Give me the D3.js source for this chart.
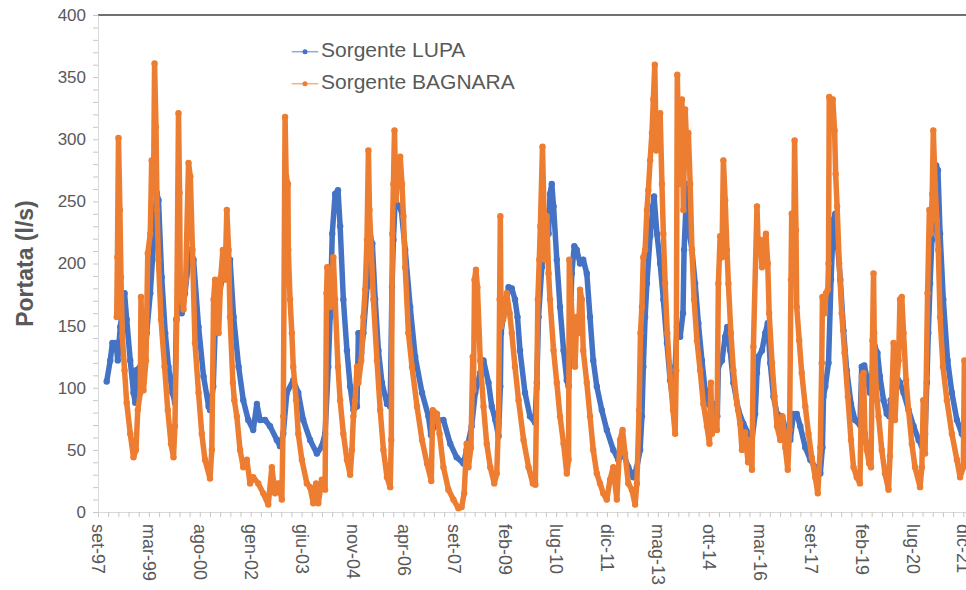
<!DOCTYPE html>
<html>
<head>
<meta charset="utf-8">
<script src="https://cdn.jsdelivr.net/npm/d3@7"></script>
<style>
  body { margin: 0; background: #fff; }
  svg { display: block; font-family: "Liberation Sans", Arial, sans-serif; }
</style>
</head>
<body>
<div id="chart"></div>
<script>
// dates as decimal years, flows in l/s
const lupaDates = [1997.98,1998.08,1998.14,1998.24,1998.29,1998.36,1998.48,1998.54,1998.64,1998.73,1998.78,1998.80,1998.92,1999.01,1999.10,1999.20,1999.29,1999.38,1999.43,1999.52,1999.62,1999.71,1999.82,1999.89,1999.93,1999.99,2000.08,2000.17,2000.31,2000.41,2000.55,2000.69,2000.83,2000.87,2000.96,2001.01,2001.11,2001.20,2001.34,2001.43,2001.53,2001.67,2001.80,2001.94,2002.08,2002.18,2002.27,2002.41,2002.55,2002.74,2002.83,2002.92,2003.02,2003.20,2003.34,2003.48,2003.67,2003.86,2004.00,2004.09,2004.18,2004.23,2004.29,2004.37,2004.45,2004.51,2004.60,2004.70,2004.79,2004.88,2004.98,2005.02,2005.10,2005.16,2005.26,2005.35,2005.41,2005.49,2005.58,2005.68,2005.82,2005.91,2005.96,2006.00,2006.05,2006.14,2006.22,2006.33,2006.47,2006.61,2006.80,2006.98,2007.05,2007.20,2007.40,2007.59,2007.77,2007.96,2008.05,2008.19,2008.29,2008.43,2008.52,2008.66,2008.75,2008.85,2008.94,2008.99,2009.01,2009.06,2009.13,2009.22,2009.31,2009.40,2009.47,2009.54,2009.68,2009.82,2009.96,2010.01,2010.06,2010.15,2010.24,2010.34,2010.38,2010.43,2010.48,2010.57,2010.66,2010.76,2010.85,2010.90,2010.94,2010.99,2011.06,2011.13,2011.22,2011.31,2011.41,2011.50,2011.59,2011.69,2011.83,2011.97,2012.15,2012.29,2012.43,2012.57,2012.71,2012.81,2012.90,2012.95,2012.99,2013.04,2013.09,2013.18,2013.26,2013.29,2013.37,2013.46,2013.55,2013.65,2013.74,2013.83,2013.88,2013.93,2014.02,2014.10,2014.13,2014.19,2014.22,2014.28,2014.35,2014.44,2014.53,2014.63,2014.72,2014.81,2014.91,2015.00,2015.06,2015.09,2015.19,2015.28,2015.34,2015.42,2015.51,2015.65,2015.79,2015.93,2016.03,2016.12,2016.17,2016.21,2016.31,2016.40,2016.47,2016.54,2016.63,2016.73,2016.87,2017.00,2017.10,2017.19,2017.28,2017.38,2017.52,2017.66,2017.80,2017.94,2018.00,2018.03,2018.08,2018.17,2018.24,2018.31,2018.36,2018.43,2018.50,2018.59,2018.68,2018.80,2018.91,2019.05,2019.10,2019.17,2019.24,2019.33,2019.41,2019.47,2019.54,2019.61,2019.71,2019.80,2019.87,2019.91,2019.99,2020.08,2020.17,2020.27,2020.41,2020.55,2020.69,2020.78,2020.87,2020.92,2020.96,2021.01,2021.06,2021.10,2021.18,2021.23,2021.29,2021.38,2021.50,2021.62,2021.76,2021.90,2021.99,2022.06];
const lupaValues = [105,122,136,136,122,149,176,155,122,96,88,114,117,109,144,176,216,257,251,189,144,117,96,88,155,171,160,176,211,203,149,109,85,82,101,144,171,187,206,203,157,117,90,74,66,87,74,74,69,58,53,63,96,106,96,74,58,47,53,63,117,157,224,256,259,230,171,130,101,82,85,144,128,144,181,222,216,171,130,104,87,85,181,219,251,246,243,211,165,125,96,77,62,74,74,55,44,39,50,69,96,112,122,104,85,74,61,101,144,155,165,181,180,171,157,130,96,77,72,104,157,197,219,224,256,264,246,203,165,130,106,101,144,192,214,211,200,203,192,157,122,101,82,66,50,42,47,36,28,36,50,77,117,157,184,222,246,254,224,200,171,136,106,87,117,149,141,160,211,251,264,224,211,184,152,122,98,87,82,87,77,117,122,141,149,130,104,82,71,63,58,79,112,125,130,144,152,120,93,79,77,63,58,79,79,69,52,42,36,31,52,93,101,120,187,235,240,213,187,146,114,87,74,70,117,118,109,96,117,133,128,109,90,79,77,90,90,109,104,96,82,69,58,53,63,104,144,184,219,256,279,275,224,171,122,96,74,63,58,55];

const bagnaraDates = [1998.26,1998.28,1998.31,1998.35,1998.38,1998.42,1998.48,1998.54,1998.64,1998.73,1998.80,1998.85,1998.92,1998.94,1999.01,1999.08,1999.13,1999.20,1999.24,1999.29,1999.32,1999.36,1999.39,1999.43,1999.50,1999.60,1999.69,1999.78,1999.85,1999.89,1999.94,1999.99,2000.02,2000.04,2000.13,2000.19,2000.27,2000.32,2000.38,2000.45,2000.55,2000.64,2000.73,2000.87,2000.92,2000.97,2001.01,2001.06,2001.11,2001.17,2001.23,2001.29,2001.34,2001.39,2001.43,2001.51,2001.55,2001.62,2001.71,2001.80,2001.90,2001.99,2002.08,2002.22,2002.36,2002.50,2002.60,2002.69,2002.78,2002.88,2002.92,2002.97,2003.00,2003.05,2003.06,2003.11,2003.16,2003.20,2003.28,2003.34,2003.44,2003.58,2003.67,2003.76,2003.84,2003.90,2004.00,2004.09,2004.13,2004.15,2004.18,2004.23,2004.28,2004.32,2004.37,2004.45,2004.51,2004.60,2004.70,2004.79,2004.84,2004.88,2004.93,2004.98,2005.02,2005.10,2005.16,2005.21,2005.26,2005.30,2005.33,2005.38,2005.44,2005.54,2005.63,2005.72,2005.82,2005.91,2005.94,2005.97,2006.00,2006.03,2006.07,2006.12,2006.19,2006.24,2006.28,2006.33,2006.42,2006.52,2006.66,2006.80,2006.94,2007.06,2007.10,2007.22,2007.29,2007.40,2007.54,2007.68,2007.82,2007.91,2007.98,2008.05,2008.10,2008.17,2008.22,2008.24,2008.27,2008.31,2008.35,2008.43,2008.52,2008.61,2008.71,2008.82,2008.89,2008.94,2008.97,2008.99,2009.01,2009.08,2009.17,2009.25,2009.31,2009.40,2009.50,2009.64,2009.78,2009.90,2009.97,2010.01,2010.04,2010.08,2010.11,2010.17,2010.21,2010.24,2010.29,2010.34,2010.38,2010.48,2010.57,2010.66,2010.76,2010.85,2010.90,2010.92,2010.97,2011.04,2011.08,2011.13,2011.18,2011.22,2011.27,2011.31,2011.41,2011.50,2011.59,2011.69,2011.78,2011.87,2011.97,2012.06,2012.15,2012.25,2012.34,2012.41,2012.48,2012.57,2012.67,2012.76,2012.81,2012.87,2012.91,2012.95,2012.99,2013.04,2013.09,2013.13,2013.18,2013.23,2013.27,2013.31,2013.35,2013.41,2013.46,2013.51,2013.55,2013.60,2013.66,2013.74,2013.82,2013.88,2013.91,2013.94,2013.97,2014.02,2014.07,2014.11,2014.16,2014.21,2014.25,2014.30,2014.35,2014.41,2014.49,2014.58,2014.67,2014.77,2014.84,2014.88,2014.91,2014.97,2015.05,2015.09,2015.14,2015.19,2015.23,2015.28,2015.33,2015.37,2015.44,2015.51,2015.61,2015.70,2015.75,2015.84,2015.92,2015.98,2016.03,2016.07,2016.17,2016.21,2016.26,2016.31,2016.35,2016.42,2016.47,2016.51,2016.59,2016.66,2016.73,2016.82,2016.88,2016.96,2017.03,2017.08,2017.12,2017.14,2017.19,2017.22,2017.26,2017.28,2017.35,2017.42,2017.52,2017.61,2017.70,2017.80,2017.87,2017.94,2017.98,2018.00,2018.06,2018.10,2018.15,2018.17,2018.19,2018.24,2018.29,2018.34,2018.37,2018.41,2018.47,2018.54,2018.62,2018.71,2018.80,2018.87,2018.96,2019.05,2019.10,2019.15,2019.19,2019.24,2019.31,2019.36,2019.40,2019.43,2019.45,2019.50,2019.57,2019.66,2019.75,2019.85,2019.89,2019.94,2019.99,2020.03,2020.08,2020.13,2020.17,2020.22,2020.27,2020.34,2020.41,2020.50,2020.59,2020.73,2020.78,2020.82,2020.87,2020.94,2020.99,2021.03,2021.07,2021.10,2021.15,2021.20,2021.24,2021.29,2021.37,2021.48,2021.62,2021.76,2021.85,2021.94,2021.97,2022.02];
const bagnaraValues = [157,205,301,243,189,141,114,88,63,44,50,82,96,173,98,122,208,224,283,257,361,310,243,203,155,117,82,55,44,69,155,321,257,181,163,187,281,270,211,136,96,63,42,27,50,171,187,157,144,189,211,187,243,211,157,104,90,77,50,36,42,23,28,23,15,6,36,15,23,10,77,318,270,264,211,171,144,117,90,63,42,23,20,7,23,7,26,18,176,197,192,165,187,205,171,117,90,63,42,30,50,77,90,117,104,122,157,179,219,291,243,211,171,122,82,50,28,20,58,224,264,307,251,272,286,264,238,197,144,117,85,58,39,25,82,79,63,36,18,10,3,4,15,55,36,52,125,98,187,195,181,122,85,55,36,23,31,74,171,238,149,157,176,160,144,117,90,58,36,23,22,100,171,203,230,294,243,203,238,192,171,130,104,77,55,31,42,203,171,138,117,157,144,179,171,130,104,77,50,31,23,15,10,26,36,10,58,66,47,23,18,6,23,82,144,165,205,211,243,259,283,305,332,360,291,305,321,264,224,184,144,109,82,63,114,352,305,264,332,243,324,291,305,264,211,171,138,114,87,69,55,104,63,69,66,184,222,205,283,251,211,184,144,114,87,71,50,64,40,58,34,133,246,208,219,197,213,224,200,160,120,93,69,58,77,52,34,66,187,240,187,299,227,165,138,112,85,63,44,28,15,52,120,173,160,176,179,200,334,321,332,307,272,246,200,160,128,93,58,36,28,23,109,112,63,50,39,36,138,192,144,101,77,50,31,18,45,90,136,74,104,122,171,173,144,106,82,55,36,20,36,90,47,176,243,224,256,307,264,235,211,157,117,90,63,42,28,36,122,104];

const yTicks = [0, 50, 100, 150, 200, 250, 300, 350, 400];
const seriesNames = ["Sorgente LUPA", "Sorgente BAGNARA"];
const colors = ["#4472C4", "#ED7D31"];
const lightColors = ["#8FAADC", "#F4B183"];

const W = 966, H = 590;
const mLeft = 98, mTop = 15, mBottom = 512;

// decimal year -> UTC date
function toDate(t) {
  const yr = Math.floor(t);
  const a = Date.UTC(yr, 0, 1), b = Date.UTC(yr + 1, 0, 1);
  return new Date(a + (t - yr) * (b - a));
}

const DAY = 86400000;
const axisStart = new Date(Date.UTC(1997, 8, 27));
const majorDays = 520;
const axisEnd = new Date(axisStart.getTime() + 17 * majorDays * DAY);

const x = d3.scaleUtc()
  .domain([axisStart, axisEnd])
  .range([mLeft, mLeft + 17 * 50.9]);
const y = d3.scaleLinear().domain([0, 400]).range([mBottom, mTop]);

const it = d3.timeFormatLocale({
  dateTime: "%A %e %B %Y, %X", date: "%d/%m/%Y", time: "%H:%M:%S",
  periods: ["AM", "PM"],
  days: ["domenica", "lunedì", "martedì", "mercoledì", "giovedì", "venerdì", "sabato"],
  shortDays: ["dom", "lun", "mar", "mer", "gio", "ven", "sab"],
  months: ["gennaio", "febbraio", "marzo", "aprile", "maggio", "giugno", "luglio", "agosto", "settembre", "ottobre", "novembre", "dicembre"],
  shortMonths: ["gen", "feb", "mar", "apr", "mag", "giu", "lug", "ago", "set", "ott", "nov", "dic"]
});
const fmt = it.utcFormat("%b-%y");

const majorTicks = d3.range(0, 18).map(k => new Date(axisStart.getTime() + k * majorDays * DAY));
const minorTicks = d3.range(0, 18 * 5 + 1).map(k => new Date(axisStart.getTime() + k * (majorDays / 5) * DAY));

const svg = d3.select("#chart").append("svg")
  .attr("width", W)
  .attr("height", H);

// top border line (400)
svg.append("line")
  .attr("x1", mLeft).attr("x2", W)
  .attr("y1", y(400)).attr("y2", y(400))
  .attr("stroke", "#404040").attr("stroke-width", 1.3);

// x axis: minor ticks
const xMinor = svg.append("g")
  .attr("transform", `translate(0, ${mBottom})`)
  .call(d3.axisBottom(x).tickValues(minorTicks).tickSize(5).tickFormat("").tickSizeOuter(0));
xMinor.select(".domain").attr("stroke", "#d9d9d9").attr("d", `M${mLeft},0.5H${W}`);
xMinor.selectAll(".tick line").attr("stroke", "#c8c8c8");

// x axis labels (last one runs off the right edge, as in the original)
const xLab = svg.append("g")
  .attr("transform", `translate(0, ${mBottom})`)
  .call(d3.axisBottom(x).tickValues(majorTicks).tickSize(0).tickFormat(fmt));
xLab.select(".domain").remove();
xLab.selectAll("text")
  .attr("transform", "rotate(90)")
  .attr("x", 12).attr("y", 0).attr("dy", "0.35em")
  .style("text-anchor", "start")
  .style("font-size", "18px")
  .style("font-family", "Liberation Sans, Arial, sans-serif")
  .attr("fill", "#595959");

// y axis minor ticks
const yMinor = svg.append("g")
  .attr("transform", `translate(${mLeft}, 0)`)
  .call(d3.axisLeft(y).tickValues(d3.range(0, 401, 10)).tickSize(5).tickFormat("").tickSizeOuter(0));
yMinor.select(".domain").attr("stroke", "#d9d9d9");
yMinor.selectAll(".tick line").attr("stroke", "#c8c8c8");

// y labels
const yLab = svg.append("g")
  .attr("transform", `translate(${mLeft}, 0)`)
  .call(d3.axisLeft(y).tickValues(yTicks).tickSize(0).tickPadding(12));
yLab.select(".domain").remove();
yLab.selectAll("text")
  .style("font-size", "17px")
  .style("font-family", "Liberation Sans, Arial, sans-serif")
  .attr("fill", "#595959");

svg.append("text")
  .attr("transform", `translate(27, ${(mTop + mBottom) / 2}) rotate(-90)`)
  .attr("text-anchor", "middle")
  .attr("dominant-baseline", "middle")
  .style("font-size", "23px")
  .style("font-weight", "bold")
  .attr("fill", "#595959")
  .text("Portata (l/s)");

// series
const series = [
  lupaDates.map((t, i) => ({ date: toDate(t), value: lupaValues[i] })),
  bagnaraDates.map((t, i) => ({ date: toDate(t), value: bagnaraValues[i] }))
];

const line = d3.line()
  .x(d => x(d.date))
  .y(d => y(d.value));

series.forEach((data, i) => {
  const g = svg.append("g").attr("class", "series s" + i);
  g.append("path")
    .datum(data)
    .attr("d", line)
    .attr("fill", "none")
    .attr("stroke", colors[i])
    .attr("stroke-width", 5.5)
    .attr("stroke-linejoin", "round")
    .attr("stroke-linecap", "round");
  g.selectAll("circle")
    .data(data)
    .join("circle")
    .attr("cx", d => x(d.date))
    .attr("cy", d => y(d.value))
    .attr("r", 3.2)
    .attr("fill", colors[i]);
});

// legend
const legend = svg.append("g");
seriesNames.forEach((name, i) => {
  const ly = 51.7 + i * 32;
  legend.append("line")
    .attr("x1", 291.7).attr("x2", 318.3)
    .attr("y1", ly).attr("y2", ly)
    .attr("stroke", lightColors[i]).attr("stroke-width", 1.5);
  legend.append("circle")
    .attr("cx", 305).attr("cy", ly).attr("r", 2.5)
    .attr("fill", colors[i]);
  legend.append("text")
    .attr("x", 321).attr("y", ly)
    .attr("dominant-baseline", "middle")
    .style("font-size", "21px")
    .attr("fill", "#595959")
    .text(name);
});
</script>
</body>
</html>
